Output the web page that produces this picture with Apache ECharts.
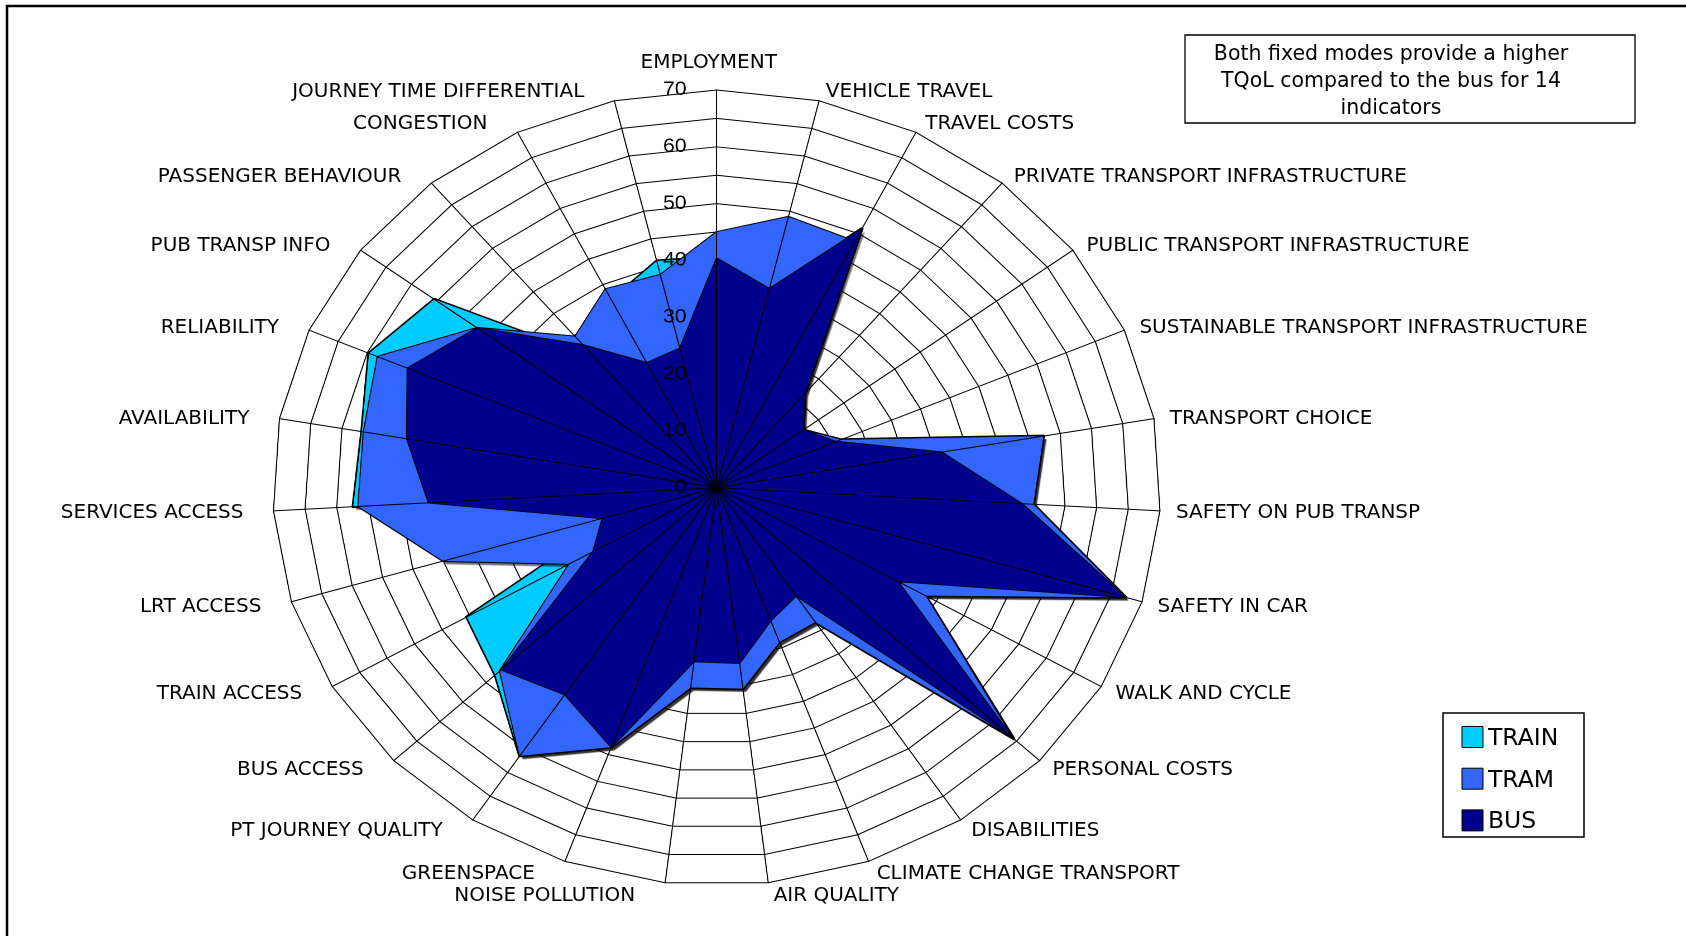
<!DOCTYPE html>
<html>
<head>
<meta charset="utf-8">
<title>TQoL radar</title>
<script src="https://cdn.jsdelivr.net/npm/echarts@6/dist/echarts.min.js"></script>
<style>
  html, body { margin: 0; padding: 0; background: #fff; overflow: hidden; }
  #radar, #overlay { position: absolute; left: 0; top: 0; width: 1686px; height: 936px; }
  /* the original plot is an ellipse, wider than tall */
  #radar { transform-origin: 716.7px 0; transform: scaleX(1.1164); }
  #overlay { pointer-events: none; }
</style>
</head>
<body>
<div id="radar"></div>
<div id="overlay"></div>
<script>
// indicators, clockwise from the top
var indicators = ['EMPLOYMENT', 'VEHICLE TRAVEL', 'TRAVEL COSTS', 'PRIVATE TRANSPORT INFRASTRUCTURE',
  'PUBLIC TRANSPORT INFRASTRUCTURE', 'SUSTAINABLE TRANSPORT INFRASTRUCTURE', 'TRANSPORT CHOICE',
  'SAFETY ON PUB TRANSP', 'SAFETY IN CAR', 'WALK AND CYCLE', 'PERSONAL COSTS', 'DISABILITIES',
  'CLIMATE CHANGE TRANSPORT', 'AIR QUALITY', 'NOISE POLLUTION', 'GREENSPACE', 'PT JOURNEY QUALITY',
  'BUS ACCESS', 'TRAIN ACCESS', 'LRT ACCESS', 'SERVICES ACCESS', 'AVAILABILITY', 'RELIABILITY',
  'PUB TRANSP INFO', 'PASSENGER BEHAVIOUR', 'CONGESTION', 'JOURNEY TIME DIFFERENTIAL'];
var train = [40.6, 36, 51, 21.6, 17, 21.3, 52.3, 50, 67.3, 38, 64.3, 28.3, 28.9, 35.6,
  35.4, 48.6, 56.5, 48, 45.5, 16, 57.4, 56.8, 59.7, 55.5, 29.5, 37, 41];
var tram = [45, 49, 48.5, 21.6, 17, 21.3, 52.3, 50, 67.3, 38, 64, 28.3, 28.9, 35.6,
  35.4, 48.6, 56.5, 47, 26.8, 45, 56.6, 56.5, 58.2, 47.1, 34.7, 39.1, 38.5];
var bus = [40.4, 36, 51, 21.6, 17, 20.5, 36, 48.2, 67.3, 33, 64, 22.8, 24.9, 31.1,
  30.8, 48.6, 43.6, 46.7, 22.5, 18.8, 45.5, 49.6, 53.1, 47.1, 32.8, 24.6, 25.2];
var tickLabels = ['0', '10', '20', '30', '40', '50', '60', '70'];
var seriesNames = ['TRAIN', 'TRAM', 'BUS'];
var colors = ['#00CCFF', '#3366FF', '#00008C'];
var note = 'Both fixed modes provide a higher\nTQoL compared to the bus for 14\nindicators';

var cx = 716.7, cy = 487.7, ry = 397.7, stretch = 1.1164;
var rx = ry * stretch;

// echarts radar runs counter-clockwise, so flip everything after the first axis
function ccw(arr) { return [arr[0]].concat(arr.slice(1).reverse()); }

var radarChart = echarts.init(document.getElementById('radar'), null, { devicePixelRatio: 2 });

function radarSeries(name, values, color, width, shadow) {
  return {
    type: 'radar',
    name: name,
    symbol: 'none',
    silent: true,
    data: [{ name: name, value: ccw(values) }],
    lineStyle: { color: '#000', width: width },
    areaStyle: {
      color: color,
      opacity: 1,
      shadowColor: shadow ? 'rgba(0,0,0,0.55)' : 'rgba(0,0,0,0)',
      shadowBlur: shadow ? 1 : 0,
      shadowOffsetX: 2.7,
      shadowOffsetY: 3.2
    }
  };
}

function makeIndicators(withLabel) {
  return ccw(indicators).map(function (n, i) {
    var o = { name: n, min: 0, max: 70 };
    // only the vertical axis carries the scale
    if (withLabel && i === 0) o.axisLabel = { show: true };
    return o;
  });
}

var radarBase = {
  center: [cx, cy],
  radius: ry,
  startAngle: 90,
  shape: 'polygon',
  splitNumber: 14,
  axisName: { show: false },
  splitArea: { show: false },
  axisTick: { show: false }
};

radarChart.setOption({
  animation: false,
  radar: [
    // rings, under the series
    echarts.util.extend({
      z: 0,
      splitLine: { lineStyle: { color: '#000', width: 1 } },
      axisLine: { show: false },
      axisLabel: { show: false },
      indicator: makeIndicators(false)
    }, radarBase),
    // spokes and scale, over the series
    echarts.util.extend({
      z: 5,
      splitLine: { show: false },
      axisLine: { lineStyle: { color: '#000', width: 1 } },
      axisLabel: {
        show: false,
        color: '#000',
        fontFamily: 'Liberation Sans',
        fontSize: 19,
        margin: 27,
        formatter: function (v) {
          return tickLabels.indexOf(String(v)) >= 0 ? String(v) : '';
        }
      },
      indicator: makeIndicators(true)
    }, radarBase)
  ],
  series: [
    radarSeries(seriesNames[0], train, colors[0], 3, true),
    radarSeries(seriesNames[1], tram, colors[1], 2, true),
    radarSeries(seriesNames[2], bus, colors[2], 1.6, false)
  ]
});

// names, note and legend are drawn unstretched on top
var overlay = echarts.init(document.getElementById('overlay'), null, { renderer: 'svg' });
var els = [];
var labelFont = { fontFamily: 'DejaVu Sans', fontSize: 20, fill: '#000' };

indicators.forEach(function (name, k) {
  var th = (90 - k * 360 / indicators.length) * Math.PI / 180;
  var ox = cx + rx * Math.cos(th), oy = cy - ry * Math.sin(th);
  var st = echarts.util.extend({ text: name, verticalAlign: 'middle' }, labelFont);
  if (k === 0) {
    st.x = ox - 8; st.y = oy - 29; st.align = 'center';
  } else if (k < indicators.length / 2) {
    st.x = ox + 4 + 12 * Math.abs(Math.cos(th)); st.y = oy - 11 * Math.sin(th); st.align = 'left';
  } else {
    st.x = ox - 30; st.y = oy - 11 * Math.sin(th); st.align = 'right';
  }
  els.push({ type: 'text', style: st });
});

// outer chart frame
els.push({ type: 'rect', shape: { x: 7, y: 6, width: 1800, height: 1000 },
  style: { fill: 'none', stroke: '#000', lineWidth: 2.5 } });

// note box
els.push({ type: 'rect', shape: { x: 1185, y: 35, width: 450, height: 88 },
  style: { fill: '#fff', stroke: '#000', lineWidth: 1.3 } });
els.push({ type: 'text', style: { text: note, x: 1391, y: 80, align: 'center', verticalAlign: 'middle',
  lineHeight: 27, fontFamily: 'DejaVu Sans', fontSize: 20.5, fill: '#000' } });

// legend
els.push({ type: 'rect', shape: { x: 1443, y: 713, width: 141, height: 124 },
  style: { fill: '#fff', stroke: '#000', lineWidth: 1.5 } });
seriesNames.forEach(function (n, i) {
  var y = 737 + i * 41.7;
  els.push({ type: 'rect', shape: { x: 1462, y: y - 10.5, width: 21, height: 21 },
    style: { fill: colors[i], stroke: '#000', lineWidth: 1 } });
  els.push({ type: 'text', style: { text: n, x: 1488, y: y, verticalAlign: 'middle',
    fontFamily: 'DejaVu Sans', fontSize: 23.5, fill: '#000' } });
});

overlay.setOption({ animation: false, graphic: { elements: els } });
</script>
</body>
</html>
